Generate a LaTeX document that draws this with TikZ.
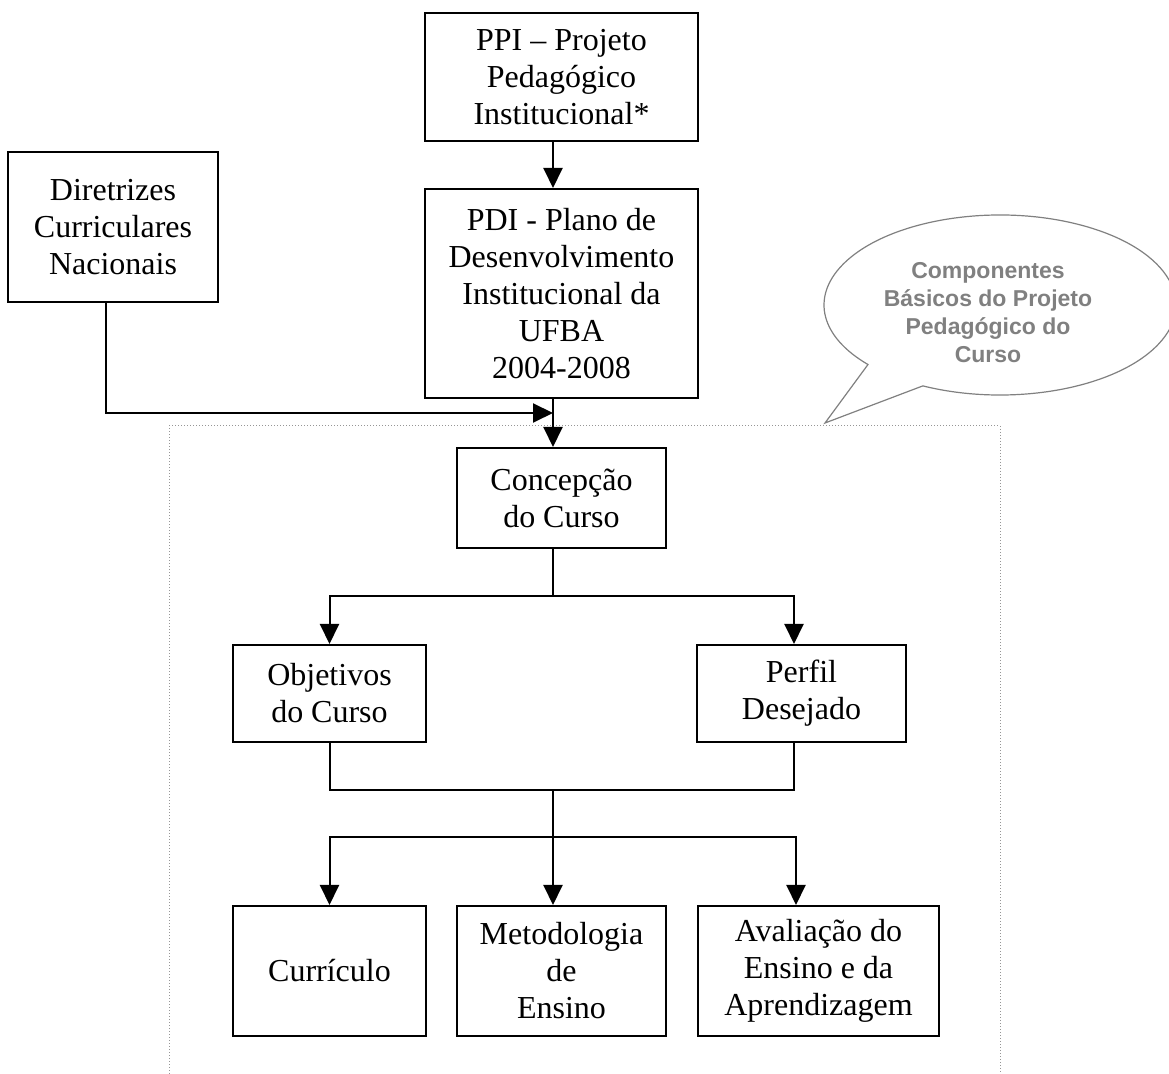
\documentclass[tikz,border=0pt]{standalone}
\usepackage{fontspec}
\setmainfont{Liberation Serif}
\newfontfamily\calloutfont{Liberation Sans}
\usepackage{tikz}
\usetikzlibrary{positioning,arrows.meta,calc}
\usepackage{xcolor}
\definecolor{calloutgray}{RGB}{128,128,128}
\definecolor{framegray}{RGB}{150,150,150}

\begin{document}
\begin{tikzpicture}[x=0.5pt,y=-0.5pt,
  box/.style={rectangle,draw=black,line width=1pt,align=center,inner sep=0pt,
    font=\fontsize{16}{18.5}\selectfont},
  link/.style={draw=black,line width=1pt},
  arr/.style={link,-{Triangle[length=10pt,width=9.5pt]}},
  frame/.style={draw=framegray,densely dotted,line width=0.5pt},
  bubble/.style={draw=calloutgray,line width=0.6pt,fill=white}
]
\useasboundingbox (0,0) rectangle (1169,1074);

% dotted frame round the basic components
\draw[frame] (169,1074) -- (169,426) -- (1000,426) -- (1000,1074);

% callout
\draw[bubble] (1000,305) ++(116:176 and 90)
  arc[start angle=116,end angle=-221.4,x radius=176,y radius=90]
  -- (825,423) -- cycle;
\node[text=calloutgray,align=center,font=\calloutfont\bfseries\fontsize{11.5}{14}\selectfont]
  (bubtxt) at (988,313) {Componentes\\Básicos do Projeto\\Pedagógico do\\Curso};

% institutional level
\node[box,minimum width=136.5pt,minimum height=64pt] (ppi) at (561.5,77)
  {PPI -- Projeto\\Pedagógico\\Institucional*};
\node[box,minimum width=136.5pt,minimum height=104.5pt] (pdi) at (561.5,293.5)
  {PDI - Plano de\\Desenvolvimento\\Institucional da\\UFBA\\2004-2008};
\node[box,minimum width=105pt,minimum height=75pt] (dcn) at (113,227)
  {Diretrizes\\Curriculares\\Nacionais};

% course level
\node[box,minimum width=104.5pt,minimum height=50pt] (conc) at (561.5,498)
  {Concepção\\do Curso};
\node[box,minimum width=96.5pt,minimum height=48.5pt] (obj) at (329.5,693.5)
  {Objetivos\\do Curso};
\node[box,minimum width=104.5pt,minimum height=48.5pt] (perf) at (801.5,693.5)
  {Perfil\\Desejado};
\node[box,minimum width=96.5pt,minimum height=65pt] (cur) at (329.5,971)
  {Currículo};
\node[box,minimum width=104.5pt,minimum height=65pt] (met) at (561.5,971)
  {Metodologia\\de\\Ensino};
\node[box,minimum width=120.5pt,minimum height=65pt] (aval) at (818.5,971)
  {Avaliação do\\Ensino e da\\Aprendizagem};

% connectors
\draw[arr] ([xshift=-4.25pt]ppi.south) -- ([xshift=-4.25pt]pdi.north);
\draw[arr] ([xshift=-4.25pt]pdi.south) -- ([xshift=-4.25pt]conc.north);
\draw[arr] ([xshift=-3.5pt]dcn.south) |- ([xshift=-4.25pt,yshift=-7pt]pdi.south);

\draw[link] ([xshift=-4.25pt]conc.south) -- ++(0,47) coordinate (split);
\draw[arr] (split) -| (obj.north);
\draw[arr] (split) -| ([xshift=-3.75pt]perf.north);

\draw[link] (obj.south) |- ([xshift=-3.75pt,yshift=-23.5pt]perf.south) coordinate (joinr)
  -- ([xshift=-3.75pt]perf.south);
\draw[link] ([xshift=-4.25pt]conc.south |- joinr) -- ++(0,47) coordinate (dist);
\draw[arr] (dist) -| (cur.north);
\draw[arr] (dist) -- ([xshift=-4.25pt]met.north);
\draw[arr] (dist) -| ([xshift=-11.25pt]aval.north);
\end{tikzpicture}
\end{document}
